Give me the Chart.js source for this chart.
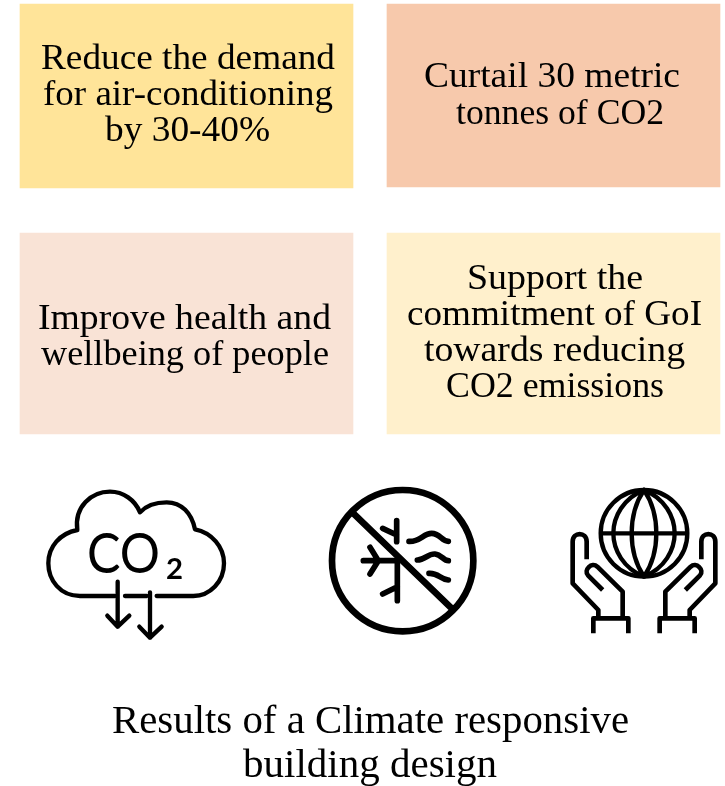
<!DOCTYPE html>
<html>
<head>
<meta charset="utf-8">
<title>Results of a Climate responsive building design</title>
<script src="https://cdn.jsdelivr.net/npm/chart.js@4"></script>
<style>
  html, body { margin: 0; padding: 0; background: #fff; }
  canvas { display: block; }
</style>
</head>
<body>
<canvas id="chart" width="725" height="786"></canvas>
<script>
// Box contents, left to right then top to bottom
const boxTexts = [
  ['Reduce the demand', 'for air-conditioning', 'by 30-40%'],
  ['Curtail 30 metric', 'tonnes of CO2'],
  ['Improve health and', 'wellbeing of people'],
  ['Support the', 'commitment of GoI', 'towards reducing', 'CO2 emissions']
];
const boxColors = ['#FFE499', '#F7C9AC', '#F9E3D6', '#FFF0CC'];
const boxCenters = [186.5, 553.5, 186.5, 553.5];
const boxTops = [4, 4, 233, 233];
const boxBottoms = [188, 187, 434, 434];
const titleLines = ['Results of a Climate responsive', 'building design'];

// Where each text line sits: left edge, right edge, baseline (same order as the strings)
const boxTextLayout = [
  [[41, 335, 69], [43, 333, 105], [105, 270, 141]],
  [[424, 680, 87], [456, 664, 124]],
  [[38, 331, 329], [41, 329, 365]],
  [[467, 643, 289], [407, 702, 325], [424, 685, 361], [446, 664, 397]]
];
const titleLayout = [[112, 629, 733], [243, 497, 777]];

// Stretch a line to the span it has in the picture
function putFitted(ctx, text, font, left, right, baseline) {
  ctx.font = font;
  const sx = (right - left) / ctx.measureText(text).width;
  ctx.save();
  ctx.translate(left, baseline);
  ctx.scale(sx, 1);
  ctx.fillText(text, 0, 0);
  ctx.restore();
}

function putLine(ctx, text, box, size) {
  putFitted(ctx, text, `${size}px "Liberation Serif"`, box[0], box[1], box[2]);
}

// Icons are traced in 3x coordinates, so strokes and paths read like the zoomed picture
function iconFrame(ctx, ox, oy, draw) {
  ctx.save();
  ctx.translate(ox, oy);
  ctx.scale(1 / 3, 1 / 3);
  ctx.lineCap = 'round';
  ctx.lineJoin = 'round';
  ctx.strokeStyle = '#000';
  draw();
  ctx.restore();
}

function drawCloud(ctx) {
  iconFrame(ctx, 0, 470, () => {
    ctx.lineWidth = 13;
    ctx.stroke(new Path2D('M240 378C180 378 145 330 145 280C145 230 180 190 232 180C222 110 275 65 330 65C370 65 405 90 420 127C440 105 470 97 500 97C545 97 575 130 585 178C635 188 672 230 672 280C672 335 630 378 580 378L470 378M440 378L375 378M345 378L240 378'));
    ctx.stroke(new Path2D('M353 335L353 470M322 437L353 470L388 437M450 367L450 503M418 470L450 503L485 470'));
  });
  ctx.fillStyle = '#000';
  putFitted(ctx, 'CO', '400 56px Lato', 87, 160, 573);
  putFitted(ctx, '2', '700 29px Lato', 166, 183, 579);
}

function drawNoCooling(ctx) {
  iconFrame(ctx, 310, 470, () => {
    ctx.lineWidth = 20;
    ctx.lineCap = 'butt';
    ctx.stroke(new Path2D('M490 272A212 212 0 1 1 66 272A212 212 0 1 1 490 272M130 130L425 415'));
    ctx.lineCap = 'round';
    ctx.lineWidth = 17;
    ctx.stroke(new Path2D('M260 152L260 215M218 175L260 195M262 272L262 392M160 272L262 272M180 232L205 272L180 312M218 372L262 350'));
    ctx.stroke(new Path2D('M297 214C330 216 340 190 365 190C390 190 395 214 415 214M322 270C345 270 355 250 375 252C395 254 400 272 415 272M357 310C385 308 390 328 415 330'));
  });
}

function drawHands(ctx) {
  iconFrame(ctx, 550, 470, () => {
    ctx.lineWidth = 13;
    ctx.stroke(new Path2D('M412 190A130 130 0 1 1 152 190A130 130 0 1 1 412 190M152 190L412 190'));
    ctx.stroke(new Path2D('M282 60C255 100 245 150 245 190C245 230 255 280 282 320C309 280 319 230 319 190C319 150 309 100 282 60M282 60C220 85 190 140 190 190C190 240 220 295 282 320C344 295 374 240 374 190C374 140 344 85 282 60'));
    const hand = new Path2D('M110 268L110 215C110 185 68 185 68 215L68 340L145 420L145 445M130 490L130 445L235 445L235 490M158 360L114 316C100 300 125 275 142 290L218 365L218 445');
    ctx.lineWidth = 14;
    ctx.lineCap = 'butt';
    ctx.stroke(hand);
    ctx.translate(564, 0);
    ctx.scale(-1, 1);
    ctx.stroke(hand);
  });
}

// Text and pictograms sit on top of the bars
const overlayPlugin = {
  id: 'overlay',
  afterDatasetsDraw(chart) {
    const ctx = chart.ctx;
    ctx.save();
    ctx.fillStyle = '#000';
    ctx.textAlign = 'left';
    ctx.textBaseline = 'alphabetic';
    boxTexts.forEach((lines, i) => {
      lines.forEach((line, j) => putLine(ctx, line, boxTextLayout[i][j], 36));
    });
    titleLines.forEach((line, j) => putLine(ctx, line, titleLayout[j], 41));
    drawCloud(ctx);
    drawNoCooling(ctx);
    drawHands(ctx);
    ctx.restore();
  }
};

new Chart(document.getElementById('chart'), {
  type: 'bar',
  data: {
    datasets: [{
      data: boxCenters.map((x, i) => ({ x: x, y: [boxTops[i], boxBottoms[i]] })),
      backgroundColor: boxColors,
      borderWidth: 0,
      barThickness: 333
    }]
  },
  options: {
    responsive: false,
    animation: false,
    layout: { padding: 0 },
    plugins: { legend: { display: false }, tooltip: { enabled: false } },
    scales: {
      x: { type: 'linear', offset: false, min: 0, max: 725, display: false },
      y: { type: 'linear', reverse: true, min: 0, max: 786, display: false }
    }
  },
  plugins: [overlayPlugin]
});
</script>
</body>
</html>
